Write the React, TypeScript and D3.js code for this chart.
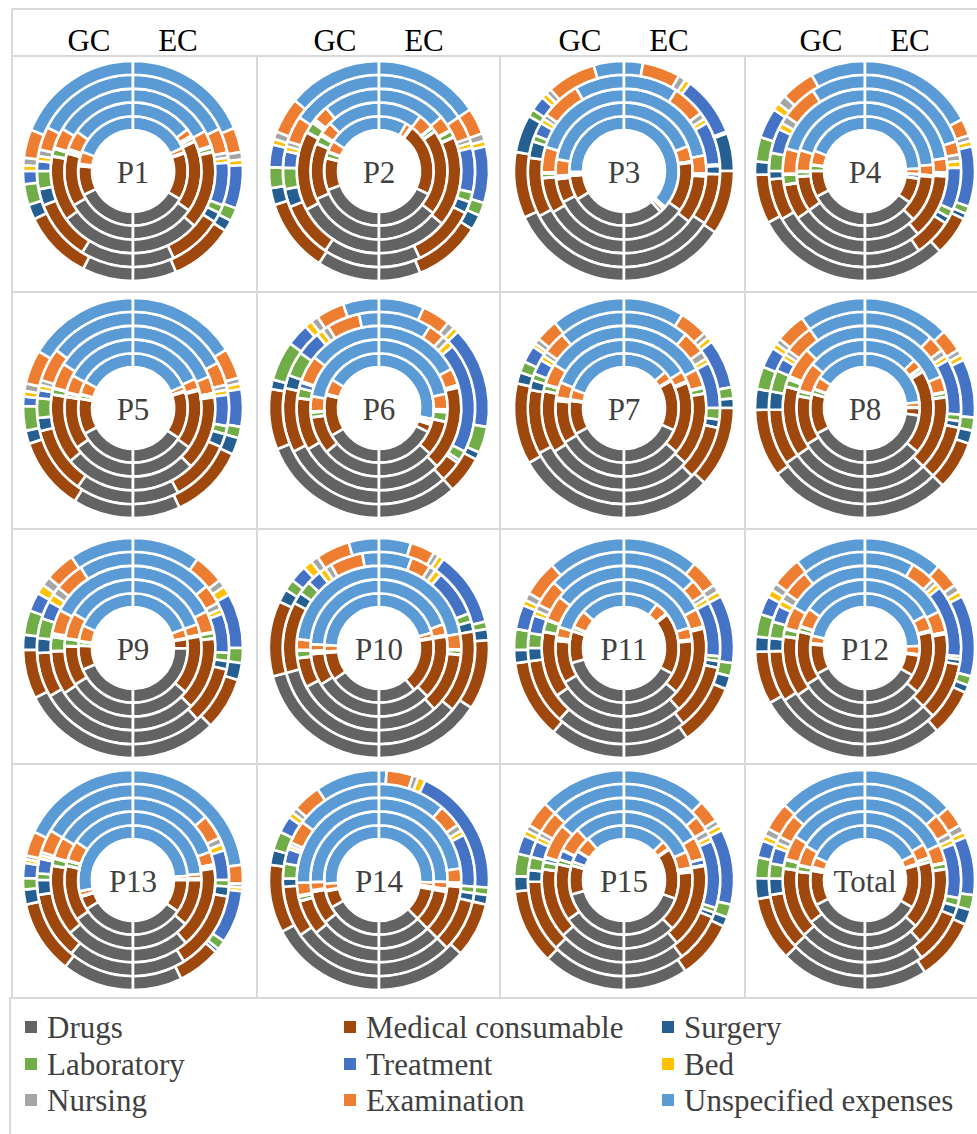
import React from "react";
import * as d3 from "d3";

const CATEGORIES = ["Drugs", "Medical consumable", "Surgery", "Laboratory", "Treatment", "Bed", "Nursing", "Examination", "Unspecified expenses"];
const COLORS = ["#636363", "#9E480E", "#255E91", "#70AD47", "#4472C4", "#FFC000", "#A5A5A5", "#ED7D31", "#5B9BD5"];
const PANELS = ["P1", "P2", "P3", "P4", "P5", "P6", "P7", "P8", "P9", "P10", "P11", "P12", "P13", "P14", "P15", "Total"];
const SIDES = ["GC", "EC"];

// each array: rings from inner to outer, values in CATEGORIES order
const P1_GC = [[64,31,0.5,1,0.5,0.3,0.3,13,69],[60,45,0.5,2.5,0.5,0.3,0.3,16,55],[54,46,0.5,5,0.5,0.3,0.3,14,59],[32,37,10,11,6,3,4,14,63],[27,37,8,11,7,3,4,15,68]];
const P1_EC = [[59,50,0.3,0.3,0.3,0.2,0.2,5,65],[55,61,0.5,3,0.5,1,1,6,53],[48,55,0.5,3,0.5,0.3,0.3,11,61],[25,33,6,5,26,3,3,15,64],[23,34,6,7,23,3,4,13,67]];
const P2_GC = [[70,34,0.5,6,0.5,0.3,0.3,12,57],[66,48,0.5,7,1,0.5,0.5,11,46],[62,56,0.5,7.5,1,1,1,11,40],[34,34,11,13,10,3,3,16,56],[33,39,9,11,12,3,4,19,50]];
const P2_EC = [[65,78,0.3,0.3,0.3,0.2,0.2,6,30],[52,73,0.5,3.5,0.3,0.3,0.3,13,37],[50,64,0.5,4.5,0.3,0.3,0.3,11,49],[25,39,7,6,27,3,3,14,56],[22,36,8,7,30,3,4,14,56]];
const P3_GC = [[59,26,0.3,0.5,0.3,0.2,0.2,3,91],[63,20,0.3,2,0.3,0.2,0.2,14,80],[60,25,0.3,3,0.3,0.3,0.3,18,73],[62,36,10,4,8,3,3,24,30],[65,35,20,4,8,3,3,26,16]];
const P3_EC = [[42,4,0.2,0.2,0.2,0.2,0.2,2,132],[55,42,0.3,0.3,0.3,0.2,0.2,13,69],[52,34,0.3,1,0.3,0.2,0.2,13,79],[57,31,5,1,26,3,4,20,33],[56,34,20,1,32,3,4,20,10]];
const P4_GC = [[62,28,0.3,6,0.3,0.2,0.2,15,68],[55,30,0.3,4,0.3,0.2,0.2,18,72],[55,25,0.3,7,0.3,0.2,0.2,18,74],[60,25,5,11,15,4,5,22,33],[62,26,7,13,16,4,5,18,29]];
const P4_EC = [[55,27,0.3,0.3,4,0.2,0.2,6,88],[45,40,0.3,0.5,0.3,0.2,0.2,9,85],[40,46,0.3,2,0.3,0.2,0.2,10,81],[34,23,4,5,26,4,4,8,72],[43,21,3,4,32,3,3,9,62]];
const P5_GC = [[62,38,0.3,4,0.3,0.2,0.2,14,61],[55,45,0.3,3,0.3,0.2,0.2,15,62],[50,50,0.3,4,0.3,0.2,0.2,18,58],[35,41,8,12,5,3,3,20,53],[32,39,7,13,5,3,4,18,59]];
const P5_EC = [[57,51,0.3,0.3,0.3,0.2,0.2,5,67],[55,50,0.3,0.5,0.3,0.2,0.2,9,65],[45,53,0.3,2,0.3,0.2,0.2,12,68],[28,38,8,5,19,3,3,14,62],[25,40,9,6,20,3,3,16,58]];
const P6_GC = [[60,44,0.3,0.5,0.3,0.2,0.2,16,59],[50,32,0.3,4,0.3,0.2,0.2,13,80],[60,37,0.3,7,4,0.5,0.5,19,52],[63,39,8,15,15,4,4,20,12],[68,32,5,21,12,4,4,15,19]];
const P6_EC = [[64,8,0.2,2,0.2,0.2,0.2,3.5,102],[48,30,0.3,8,2,0.3,0.3,13,78],[45,60,0.3,0.5,0.5,0.3,0.3,12,62],[42,13,2,6,67,4,4,10,32],[42,20,4,14,54,3,4,15,24]];
const P7_GC = [[62,36,0.3,0.5,0.3,0.2,0.2,11,70],[60,36,0.3,2,0.3,0.2,0.2,13,68],[58,44,0.3,4,0.3,0.2,0.2,15,58],[62,39,6,4,9,3,3,14,40],[60,43,6,6,9,2,3,12,39]];
const P7_EC = [[66,54,0.3,0.3,0.3,0.2,0.2,10,49],[50,62,0.3,0.5,0.3,0.2,0.2,9,58],[48,52,0.3,4,0.3,0.2,0.2,13,62],[45,33,5,7,28,3,5,14,40],[47,43,5,6,26,3,3,15,32]];
const P8_GC = [[62,43,0.3,5,0.3,0.2,0.2,13,56],[58,42,0.3,4,0.3,0.2,0.2,25,50],[55,50,0.3,5,2,0.3,0.3,22,45],[55,34,11,13,8,3,3,18,35],[53,36,11,12,11,3,3,16,35]];
const P8_EC = [[82,8,0.2,0.2,0.2,0.2,0.2,5,84],[50,72,0.3,3,0.3,0.2,0.2,8,46],[45,53,0.3,3,0.3,0.2,0.2,11,68],[45,33,4,4,34,3,4,10,43],[45,26,7,7,31,3,3,12,46]];
const P9_GC = [[67,26,0.3,4,0.3,0.2,0.2,17,66],[58,34,0.3,6,0.3,0.2,0.2,22,60],[57,31,0.3,10,2,0.3,0.3,17,63],[60,27,9,12,11,5,5,18,33],[63,26,8,13,10,5,5,16,34]];
const P9_EC = [[90,10,0.2,0.3,0.2,0.2,0.2,10,70],[50,50,0.3,0.5,0.3,0.2,0.2,9,70],[45,52,0.3,4,0.3,0.2,0.2,15,64],[42,35,5,5,24,3,4,12,50],[45,28,9,8,29,5,4,16,36]];
const P10_GC = [[55,30,0.3,0.5,0.3,0.2,0.2,7,87],[58,27,0.3,2,0.3,0.2,0.2,5.5,87],[62,21,0.3,5,0.3,0.2,0.2,7.5,84],[75,43,7,8,9,4,4,20,10],[75,40,7,6,9,5,4,18,16]];
const P10_EC = [[40,60,0.3,0.3,0.3,0.2,0.2,5,74],[45,55,0.3,0.5,0.3,0.2,0.2,9,70],[42,43,0.3,3,0.3,0.2,0.2,11,80],[50,50,6,5,29,4,4,12,20],[57,37,6,4,40,3,3,13,17]];
const P11_GC = [[74,34,0.3,4,0.3,0.2,0.2,19,48],[60,36,0.3,2,0.3,0.2,0.2,9,72],[55,47,0.3,8,0.3,0.2,0.2,18,52],[42,40,8,9,11,3,4,16,47],[40,42,7,11,13,3,4,19,41]];
const P11_EC = [[62,66,0.3,0.3,0.3,0.2,0.2,14,37],[50,46,0.3,0.5,0.3,0.2,0.2,10,73],[42,62,0.3,0.5,0.3,0.2,0.2,13,62],[38,40,4,3,33,3,3,10,46],[35,33,7,7,36,3,4,15,40]];
const P12_GC = [[62,32,0.3,0.5,0.3,0.2,0.2,8,77],[58,46,0.3,4,0.3,0.2,0.2,16,55],[55,43,0.3,5,0.3,0.2,0.2,16,60],[57,31,8,10,10,4,5,16,39],[60,28,8,12,10,4,4,16,38]];
const P12_EC = [[60,22,0.3,0.3,0.3,0.2,0.2,9,88],[50,54,0.3,0.5,0.3,0.2,0.2,13,62],[45,55,0.3,0.5,0.3,0.2,0.2,15,64],[45,35,3,2,44,3,3,15,30],[41,25,4,5,43,3,4,13,42]];
const P13_GC = [[58,14,0.2,0.3,0.2,0.2,0.2,5,102],[55,47,0.3,4,0.3,0.2,0.2,17,56],[50,50,0.3,5,0.3,0.2,0.2,15,59],[40,41,9,4,9,2,2,14,59],[38,39,8,6,8,2,2,13,64]];
const P13_EC = [[55,35,0.2,0.3,0.2,0.2,0.2,3.5,86],[50,40,0.2,1,0.2,0.2,0.2,3.5,85],[40,58,0.3,2,0.3,0.2,0.2,9,70],[32,48,6,4,18,4,4,15,49],[26,23,2,5,28,2,2,10,82]];
const P14_GC = [[60,18,0.3,0.3,0.3,0.2,0.2,7,94],[52,28,0.3,0.5,0.3,0.2,0.2,7,92],[50,25,0.3,3,0.3,0.3,0.3,9,92],[55,31,5,9,9,2,2,14,53],[62,36,8,10,9,3,3,15,34]];
const P14_EC = [[45,35,0.3,0.3,2,0.2,0.2,4.5,93],[45,35,0.3,0.5,1.5,0.2,0.2,6,92],[45,40,0.3,2,0.3,0.2,0.2,10,82],[45,32,5,4,32,3,4,14,41],[48,29,5,4,69,4,3,14,4]];
const P15_GC = [[75,31,0.3,4,12,0.3,0.3,17,41],[55,49,0.3,4,8,0.3,0.3,21,43],[48,50,0.3,5,3,0.3,0.3,25,49],[45,44,7,8,10,3,3,14,46],[44,40,8,12,10,3,3,14,46]];
const P15_EC = [[70,54,0.3,0.3,0.3,0.2,0.2,9,46],[45,52,0.3,0.5,2.5,0.2,0.2,14,66],[40,60,0.3,0.5,4,0.2,0.2,16,59],[37,30,3,3,41,3,4,10,49],[34,31,5,7,40,3,3,12,45]];
const TOTAL_GC = [[63,37,0.3,3,0.3,0.2,0.2,11,65],[52,45,0.3,5,0.3,0.2,0.2,17,60],[48,50,0.3,6,0.3,0.2,0.2,17,58],[47,34,10,9,10,3,4,15,48],[46,34,11,11,9,3,4,15,47]];
const TOTAL_EC = [[60,46,0.3,0.5,0.3,0.2,0.2,10,63],[48,58,0.3,3,0.3,0.2,0.2,12,59],[42,56,0.3,4,0.3,0.2,0.2,13,65],[36,32,6,5,33,3,4,13,48],[33,33,8,8,31,3,4,11,49]];

const DATA = [
  [P1_GC, P1_EC], [P2_GC, P2_EC], [P3_GC, P3_EC], [P4_GC, P4_EC],
  [P5_GC, P5_EC], [P6_GC, P6_EC], [P7_GC, P7_EC], [P8_GC, P8_EC],
  [P9_GC, P9_EC], [P10_GC, P10_EC], [P11_GC, P11_EC], [P12_GC, P12_EC],
  [P13_GC, P13_EC], [P14_GC, P14_EC], [P15_GC, P15_EC], [TOTAL_GC, TOTAL_EC],
];

const W = 977;
const H = 1134;
const COL_X = [133, 379, 624, 865];
const ROW_Y = [171, 408, 648, 880];
const R_IN = 41;
const R_OUT = 110;
const FONT = "Liberation Serif, Tinos, DejaVu Serif, serif";
const GRID = "#d9d9d9";

function Donut({ cx, cy, label, gc, ec }: { cx: number; cy: number; label: string; gc: number[][]; ec: number[][] }) {
  const nR = gc.length;
  const rScale = d3.scaleLinear().domain([0, nR]).range([R_IN, R_OUT]);
  const pie = d3.pie<number>().sort(null).value((d) => d);
  const paths: React.ReactNode[] = [];
  for (let k = 0; k < nR; k++) {
    const arc = d3.arc<d3.PieArcDatum<number>>().innerRadius(rScale(k)).outerRadius(rScale(k + 1));
    const gcArcs = pie.startAngle(Math.PI).endAngle(2 * Math.PI)(gc[k]);
    gcArcs.forEach((a, i) => {
      paths.push(<path key={`g${k}-${i}`} d={arc(a) || ""} fill={COLORS[i]} stroke="#fff" strokeWidth={2.6} />);
    });
    const rev = ec[k].slice().reverse();
    const ecArcs = pie.startAngle(0).endAngle(Math.PI)(rev);
    ecArcs.forEach((a, i) => {
      const ci = rev.length - 1 - i;
      paths.push(<path key={`e${k}-${i}`} d={arc(a) || ""} fill={COLORS[ci]} stroke="#fff" strokeWidth={2.6} />);
    });
  }
  return (
    <g transform={`translate(${cx},${cy})`}>
      {paths}
      <text x={0} y={1} textAnchor="middle" dominantBaseline="central" style={{ fontFamily: FONT }} fontSize={31} fill="#404040">{label}</text>
    </g>
  );
}

export default function App() {
  const hLines = [9, 56, 292, 529, 764, 998];
  const vLines = [257, 500, 745];
  const legX = [25, 344, 662];
  const legY = [1027, 1064, 1100];
  return (
    <svg width={W} height={H} viewBox={`0 0 ${W} ${H}`} style={{ position: "absolute", left: 0, top: 0, background: "#fff", fontFamily: FONT }}>
      <rect x={0} y={0} width={W} height={H} fill="#fff" />
      {hLines.map((y, i) => (
        <line key={`h${i}`} x1={12} x2={W} y1={y} y2={y} stroke={GRID} strokeWidth={2} />
      ))}
      <line x1={12} x2={12} y1={9} y2={998} stroke={GRID} strokeWidth={2} />
      {vLines.map((x, i) => (
        <line key={`v${i}`} x1={x} x2={x} y1={56} y2={998} stroke={GRID} strokeWidth={2} />
      ))}
      <rect x={10} y={998} width={W} height={H - 998 + 2} fill="none" stroke={GRID} strokeWidth={2} />
      {COL_X.map((x, i) => (
        <g key={`hdr${i}`}>
          <text x={x - 44} y={40} textAnchor="middle" dominantBaseline="central" style={{ fontFamily: FONT }} fontSize={31} fill="#000">{SIDES[0]}</text>
          <text x={x + 45} y={40} textAnchor="middle" dominantBaseline="central" style={{ fontFamily: FONT }} fontSize={31} fill="#000">{SIDES[1]}</text>
        </g>
      ))}
      {PANELS.map((p, i) => (
        <Donut key={p} cx={COL_X[i % 4]} cy={ROW_Y[Math.floor(i / 4)]} label={p} gc={DATA[i][0]} ec={DATA[i][1]} />
      ))}
      {CATEGORIES.map((c, i) => {
        const col = i % 3;
        const row = Math.floor(i / 3);
        return (
          <g key={c}>
            <rect x={legX[col]} y={legY[row] - 6} width={12} height={12} fill={COLORS[i]} />
            <text x={legX[col] + 22} y={legY[row]} dominantBaseline="central" style={{ fontFamily: FONT }} fontSize={31} fill="#404040">{c}</text>
          </g>
        );
      })}
    </svg>
  );
}
